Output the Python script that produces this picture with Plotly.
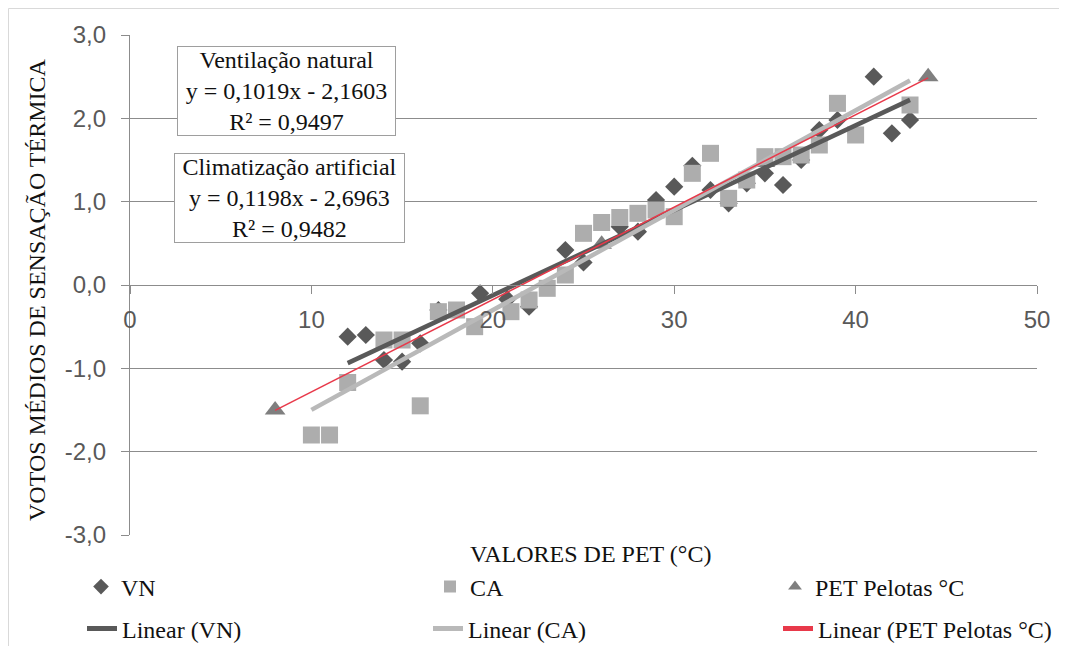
import numpy as np
import plotly.graph_objects as go

# ---- data ----
vn_x = [12, 13, 14, 15, 16, 17, 19.3, 20.8, 22, 24, 25, 27, 28, 29, 30, 31, 32, 33, 34, 35, 36, 37, 38, 39, 41, 42, 43]
vn_y = [-0.62, -0.60, -0.90, -0.92, -0.70, -0.30, -0.10, -0.17, -0.26, 0.42, 0.27, 0.70, 0.64, 1.02, 1.18, 1.43, 1.14, 0.98, 1.22, 1.34, 1.20, 1.50, 1.86, 1.98, 2.50, 1.82, 1.98]

ca_x = [10, 11, 12, 14, 15, 16, 17, 18, 19, 21, 22, 23, 24, 25, 26, 27, 28, 29, 30, 31, 32, 33, 34, 35, 36, 37, 38, 39, 40, 43]
ca_y = [-1.80, -1.80, -1.17, -0.66, -0.66, -1.45, -0.32, -0.30, -0.50, -0.32, -0.18, -0.04, 0.12, 0.62, 0.75, 0.81, 0.86, 0.90, 0.82, 1.34, 1.58, 1.04, 1.26, 1.54, 1.54, 1.56, 1.68, 2.18, 1.80, 2.16]

pet_x = [8, 26, 35, 44]
pet_y = [-1.50, 0.49, 1.47, 2.50]

# trendline coefficients shown in the chart
vn_slope, vn_icpt = 0.1019, -2.1603
ca_slope, ca_icpt = 0.1198, -2.6963

x_ticks = [0, 10, 20, 30, 40, 50]
y_ticks = [-3, -2, -1, 0, 1, 2, 3]
y_ticktext = [f"{v:.1f}".replace(".", ",") for v in y_ticks]

box_vn = ["Ventilação natural", "y = 0,1019x - 2,1603", "R² = 0,9497"]
box_ca = ["Climatização artificial", "y = 0,1198x - 2,6963", "R² = 0,9482"]

# ---- styling ----
SERIF = "Liberation Serif, Times New Roman, serif"
SANS = "Liberation Sans, Arial, sans-serif"
GRID = "#8C8C8C"
TICKC = "#595959"
TXT = "#111111"

# page has an 8px body margin; figure sized so plot area lands where the reference has it
OFF = 8
W, H = 1059, 638
ML, MR, MT, MB = 122, 30, 27, 111
PW, PH = W - ML - MR, H - MT - MB


def pxX(p):  # page pixel x -> paper
    return (p - OFF - ML) / PW


def pxY(p):  # page pixel y -> paper
    return (H - MB - (p - OFF)) / PH


fig = go.Figure()

fig.add_trace(go.Scatter(x=pet_x, y=pet_y, mode="markers", name="PET Pelotas °C",
                         marker=dict(symbol="triangle-up", size=18, color="#7F7F7F"),
                         legend="legend3"))
fig.add_trace(go.Scatter(x=vn_x, y=vn_y, mode="markers", name="VN",
                         marker=dict(symbol="diamond", size=14, color="#595959"),
                         legend="legend"))
fig.add_trace(go.Scatter(x=ca_x, y=ca_y, mode="markers", name="CA",
                         marker=dict(symbol="square", size=17, color="#ADADAD"),
                         legend="legend2"))

vx = np.array([min(vn_x), max(vn_x)])
cx = np.array([min(ca_x), max(ca_x)])
px_ = np.array([min(pet_x), max(pet_x)])
p_slope, p_icpt = np.polyfit(pet_x, pet_y, 1)

fig.add_trace(go.Scatter(x=vx, y=vn_slope * vx + vn_icpt, mode="lines", name="Linear (VN)",
                         line=dict(color="#595959", width=4.5), legend="legend4"))
fig.add_trace(go.Scatter(x=cx, y=ca_slope * cx + ca_icpt, mode="lines", name="Linear (CA)",
                         line=dict(color="#B9B9B9", width=4.5), legend="legend5"))
fig.add_trace(go.Scatter(x=px_, y=p_slope * px_ + p_icpt, mode="lines", name="Linear (PET Pelotas °C)",
                         line=dict(color="#E8394A", width=1.5), legend="legend6"))

annotations = [
    dict(text="VALORES DE PET (°C)", xref="paper", yref="paper", x=pxX(590), y=pxY(554),
         showarrow=False, font=dict(family=SERIF, size=24, color=TXT), xanchor="center", yanchor="middle"),
    dict(text="VOTOS MÉDIOS DE SENSAÇÃO TÉRMICA", xref="paper", yref="paper", x=pxX(37), y=pxY(290),
         showarrow=False, textangle=-90, font=dict(family=SERIF, size=24, color=TXT),
         xanchor="center", yanchor="middle"),
    dict(text="<br>".join(box_vn), xref="paper", yref="paper", x=pxX(286.5), y=pxY(90.5),
         showarrow=False, font=dict(family=SERIF, size=24, color=TXT), align="center",
         bgcolor="white", bordercolor="#9E9E9E", borderwidth=1, borderpad=0, width=217,
         xanchor="center", yanchor="middle"),
    dict(text="<br>".join(box_ca), xref="paper", yref="paper", x=pxX(289.5), y=pxY(197.7),
         showarrow=False, font=dict(family=SERIF, size=24, color=TXT), align="center",
         bgcolor="white", bordercolor="#9E9E9E", borderwidth=1, borderpad=0, width=229,
         xanchor="center", yanchor="middle"),
]

shapes = [
    dict(type="rect", xref="paper", yref="paper", x0=pxX(8.5), x1=pxX(1062), y0=pxY(700), y1=pxY(8.5),
         line=dict(color="#D9D9D9", width=1), fillcolor="rgba(0,0,0,0)", layer="below"),
]


def leg(text_x, cy):
    return dict(orientation="h", x=pxX(text_x - 40), y=pxY(cy), xanchor="left", yanchor="middle",
                font=dict(family=SERIF, size=24, color=TXT), bgcolor="rgba(0,0,0,0)",
                itemsizing="constant")


fig.update_layout(
    width=W, height=H,
    margin=dict(l=ML, r=MR, t=MT, b=MB, autoexpand=False),
    paper_bgcolor="white", plot_bgcolor="white",
    separators=",.",
    showlegend=True,
    legend=leg(121, 587),
    legend2=leg(470, 587),
    legend3=leg(815, 587),
    legend4=leg(122, 629),
    legend5=leg(468, 629),
    legend6=leg(818, 629),
    annotations=annotations,
    shapes=shapes,
    xaxis=dict(range=[0, 50], tickvals=x_ticks, ticktext=[str(v) for v in x_ticks],
               anchor="free", position=0.5, showline=True, linecolor=GRID, linewidth=1.3,
               ticks="outside", ticklen=8, tickcolor=GRID, tickwidth=1.3,
               showgrid=False, zeroline=False, ticklabelstandoff=5,
               tickfont=dict(family=SANS, size=24, color=TICKC)),
    yaxis=dict(range=[-3, 3], tickvals=y_ticks, ticktext=y_ticktext,
               showline=True, linecolor=GRID, linewidth=1.3,
               ticks="outside", ticklen=8, tickcolor=GRID, tickwidth=1.3,
               showgrid=True, gridcolor=GRID, gridwidth=1.3, zeroline=False,
               ticklabelstandoff=10,
               tickfont=dict(family=SANS, size=24, color=TICKC)),
)

fig.write_html("out.html")
